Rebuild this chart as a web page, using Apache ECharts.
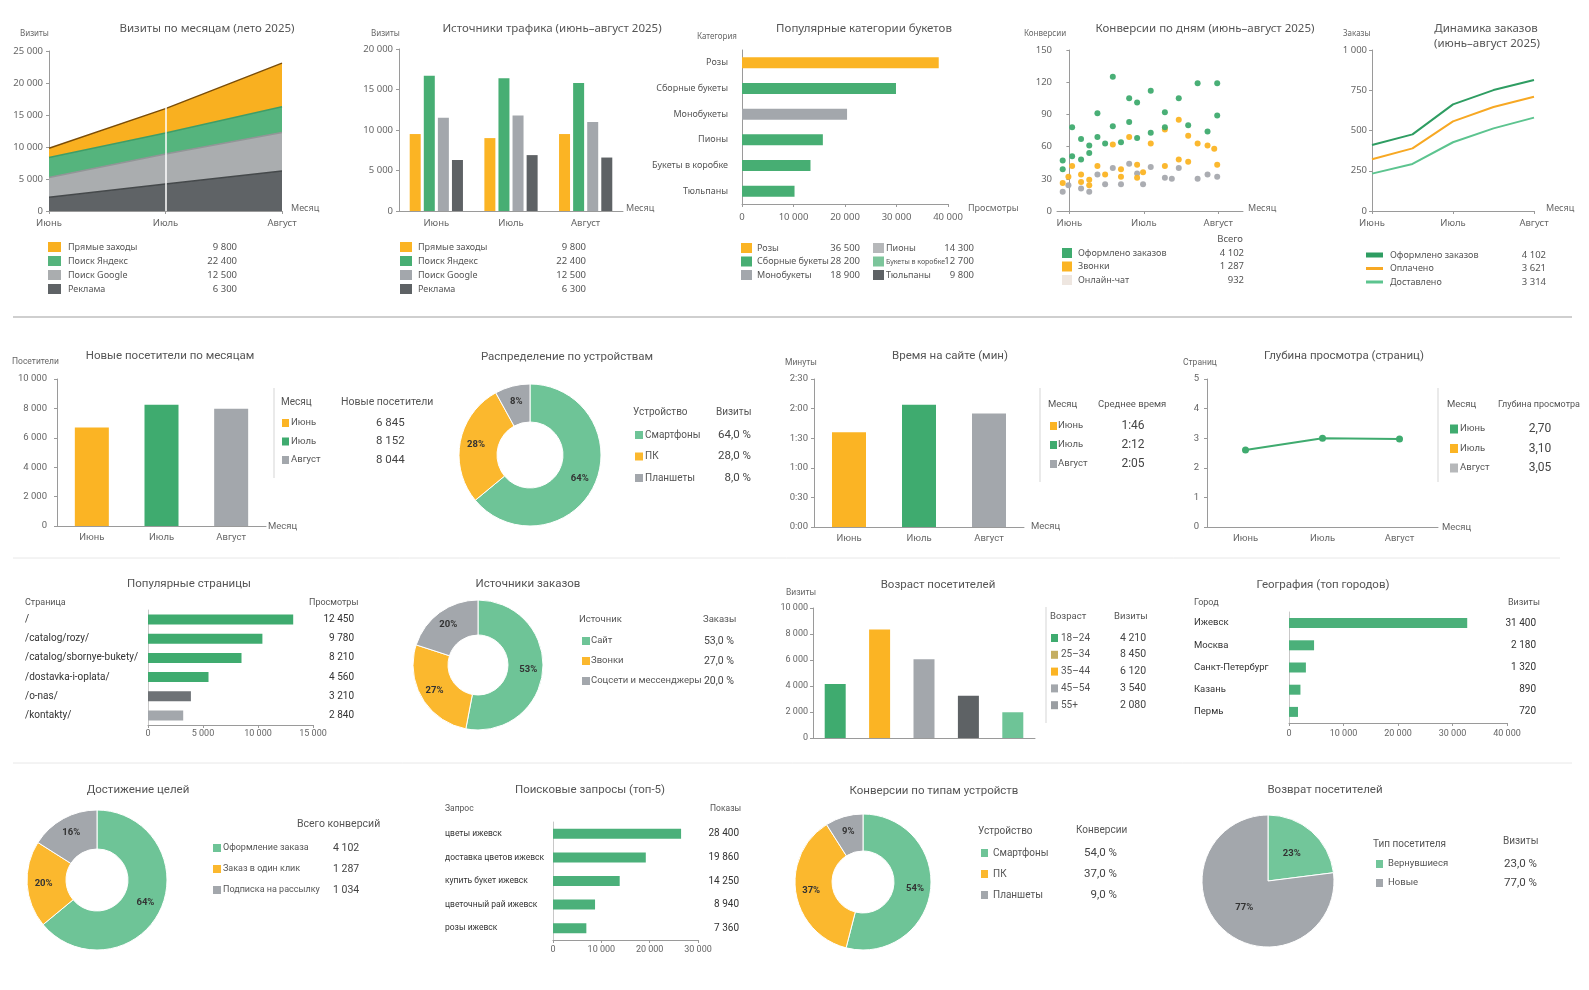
<!DOCTYPE html>
<html><head><meta charset="utf-8">
<script src="https://cdn.jsdelivr.net/npm/echarts@6/dist/echarts.min.js"></script>
<style>html,body{margin:0;padding:0;background:#fff}#c{width:1589px;height:990px}</style>
</head><body><div id="c"></div>
<script>
// ================= DATA =================
const months = ['Июнь','Июль','Август'];
// 1. Визиты по месяцам (stacked area)
const visitNames   = ['Прямые заходы','Поиск Яндекс','Поиск Google','Реклама'];
const visitsDirect = [1450, 3800, 6800];
const visitsYandex = [3100, 3300, 4050];
const visitsGoogle = [3100, 4700, 6000];
const visitsAds    = [2150, 4200, 6250];
const visitTotals  = [9800, 22400, 12500, 6300];
// 2. Источники трафика
const trafficDirect = [9500, 9000, 9500];
const trafficYandex = [16700, 16400, 15800];
const trafficGoogle = [11500, 11800, 11000];
const trafficAds    = [6300, 6900, 6600];
const trafficTotals = [9800, 22400, 12500, 6300];
// 3. Популярные категории букетов
const bouquetCats   = ['Розы','Сборные букеты','Монобукеты','Пионы','Букеты в коробке','Тюльпаны'];
const bouquetViews  = [38200, 29900, 20400, 15700, 13300, 10200];
const bouquetTotals = [36500, 28200, 18900, 14300, 12700, 9800];
// 4. Конверсии по дням ([day offset from 1 June, conversions])
const convNames  = ['Оформлено заказов','Звонки','Онлайн-чат'];
const convTotals = [4102, 1287, 932];
const convMonthDays = [0, 30, 60];
const convOrders = [[-2.7,47],[-2.7,39],[1.1,78],[1.1,51],[4.7,67],[4.7,48],[8,61],[8,54],[11.3,91],[11.3,69],[14.4,63],[17.5,125],[17.5,79],[20.8,64],[24.1,105],[24.1,83],[27.3,101],[27.3,68],[32.8,112],[32.8,73],[38.5,92],[38.5,78],[44.1,105],[47.9,80],[51.7,119],[55.7,74],[59.6,119],[59.6,89]];
const convCalls  = [[-2.7,26],[-0.4,32],[1.1,42],[4.7,34],[4.7,27],[8,29],[8,24],[11.3,42],[14.4,34],[17.5,62],[20.8,39],[20.8,32],[24.1,69],[27.3,43],[27.3,31],[29.7,36],[32.8,63],[38.5,42],[38.5,76],[44.1,48],[44.1,85],[47.9,70],[47.9,46],[51.7,63],[55.7,61],[58.4,58],[59.6,43]];
const convChat   = [[-2.7,18],[-0.4,24],[4.7,21],[8,18],[11.3,34],[14.4,25],[17.5,40],[20.8,25],[24.1,44],[27.3,35],[29.7,25],[32.8,41],[38.5,31],[41.3,30],[44.1,40],[51.7,30],[55.7,34],[59.6,32]];
// 5. Динамика заказов
const orderPoints     = ['Июнь','середина июня','Июль','середина июля','Август'];
const ordersPlaced    = [410, 476, 662, 751, 814];
const ordersPaid      = [321, 389, 557, 646, 710];
const ordersDelivered = [232, 292, 427, 513, 580];
const orderNames  = ['Оформлено заказов','Оплачено','Доставлено'];
const orderTotals = [4102, 3621, 3314];
// 6. Новые посетители
const newVisitors       = [6700, 8250, 7980];
const newVisitorsLabels = [6845, 8152, 8044];
// 7. Устройства
const devices     = ['Смартфоны','ПК','Планшеты'];
const deviceShare = [64, 28, 8];
// 8. Время на сайте (секунды)
const timeOnSite = [96, 124, 115];
const timeLabels = ['1:46','2:12','2:05'];
// 9. Глубина просмотра
const depth       = [2.6, 3.0, 2.97];
const depthLabels = ['2,70','3,10','3,05'];
// 10. Популярные страницы
const pages     = ['/','/catalog/rozy/','/catalog/sbornye-bukety/','/dostavka-i-oplata/','/o-nas/','/kontakty/'];
const pageBars  = [13200, 10400, 8500, 5500, 3900, 3200];
const pageViews = [12450, 9780, 8210, 4560, 3210, 2840];
// 11. Источники заказов
const orderSources     = ['Сайт','Звонки','Соцсети и мессенджеры'];
const orderSourceShare = [53, 27, 20];
// 12. Возраст
const ageGroups = ['18–24','25–34','35–44','45–54','55+'];
const ageBars   = [4150, 8350, 6050, 3250, 1980];
const ageVisits = [4210, 8450, 6120, 3540, 2080];
// 13. География
const cities     = ['Ижевск','Москва','Санкт-Петербург','Казань','Пермь'];
const cityBars   = [32700, 4600, 3100, 2100, 1650];
const cityVisits = [31400, 2180, 1320, 890, 720];
// 14. Достижение целей
const goals      = ['Оформление заказа','Заказ в один клик','Подписка на рассылку'];
const goalShare  = [64, 20, 16];
const goalTotals = [4102, 1287, 1034];
// 15. Поисковые запросы
const queries    = ['цветы ижевск','доставка цветов ижевск','купить букет ижевск','цветочный рай ижевск','розы ижевск'];
const queryBars  = [26500, 19200, 13800, 8700, 6900];
const queryShows = [28400, 19860, 14250, 8940, 7360];
// 16. Конверсии по типам устройств
const convDevices     = ['Смартфоны','ПК','Планшеты'];
const convDeviceShare = [54, 37, 9];
// 17. Возврат посетителей
const visitorTypes = ['Вернувшиеся','Новые'];
const visitorShare = [23, 77];

// ================= STYLE =================
const F1 = "'Noto Sans','Open Sans',sans-serif";
const F2 = "'Roboto','Noto Sans',sans-serif";
const OR = '#FBB424', GR = '#3FAB6F', LG = '#6EC497', GY = '#A3A7AC', DG = '#5E6265', LGY = '#B6B8BA';
const AX = '#9a9a9a';

function fmt(v){ return String(v).replace(/\B(?=(\d{3})+(?!\d))/g,' '); }
function pct(v){ return v.toFixed(1).replace('.',',') + ' %'; }
function mmss(v){ const m = Math.floor(v/60), s = v%60; return m + ':' + (s<10?'0':'') + s; }
function merge(a,b){ for(const k in b){ if(b[k] && typeof b[k]==='object' && !Array.isArray(b[k]) && a[k] && typeof a[k]==='object' && !Array.isArray(a[k])) merge(a[k],b[k]); else a[k]=b[k]; } return a; }

const grid=[], xAxis=[], yAxis=[], series=[], graphic=[];
function addGrid(g){ grid.push(Object.assign({containLabel:false, outerBoundsMode:'none'}, g)); return grid.length-1; }
function valAxis(g,min,max,interval,font,size,margin,fn,extra){
  return merge({gridIndex:g,type:'value',min,max,interval,
    axisLine:{show:true,lineStyle:{color:AX}},axisTick:{show:true,length:3,lineStyle:{color:AX}},
    axisLabel:{color:'#666',fontFamily:font,fontSize:size,margin,formatter:fn||fmt},
    splitLine:{show:false}}, extra||{});
}
function catAxis(g,data,font,size,margin,extra){
  return merge({gridIndex:g,type:'category',data,
    axisLine:{show:true,lineStyle:{color:AX}},axisTick:{show:false},
    axisLabel:{color:'#666',fontFamily:font,fontSize:size,margin},
    splitLine:{show:false}}, extra||{});
}
function T(x,y,s,o){ o=o||{}; return {type:'text',silent:true,z:10,style:{x,y,text:String(s),fill:o.c||'#555',fontSize:o.s||10,fontFamily:o.f||F2,fontWeight:o.w||'normal',align:o.a||'left',textAlign:o.a||'left',verticalAlign:'middle',textVerticalAlign:'middle'}}; }
function R(x,y,w,h,c){ return {type:'rect',silent:true,z:10,shape:{x,y:y-h/2,width:w,height:h},style:{fill:c}}; }
function L(x1,y1,x2,y2,c,w){ return {type:'line',silent:true,z:10,shape:{x1,y1,x2,y2},style:{stroke:c,lineWidth:w||1}}; }
function each(arr,y0,dy,fn){ arr.forEach((n,i)=>fn(n,i,y0+i*dy)); }
function lastX(){ return xAxis.length-1; } function lastY(){ return yAxis.length-1; }
function colored(vals,cols){ return vals.map((v,i)=>({value:v,itemStyle:{color:cols[i]}})); }

let g, xi, yi;

// ---------- 1. Визиты по месяцам ----------
g = addGrid({left:49,top:51,width:233,height:160});
xAxis.push(catAxis(g,months,F1,9.5,7,{boundaryGap:false,axisTick:{show:true,length:3,lineStyle:{color:AX}}})); xi=lastX();
yAxis.push(valAxis(g,0,25000,5000,F1,9.5,6)); yi=lastY();
const areaDefs = [[visitNames[3],visitsAds,'#5F6366','#45494B'],[visitNames[2],visitsGoogle,'#AAADAF','#929597'],[visitNames[1],visitsYandex,'#55B47D','#3E9D67'],[visitNames[0],visitsDirect,'#F9B020','#7A4D08']];
areaDefs.forEach((s,i)=>{
  const ser = {type:'line',name:s[0],xAxisIndex:xi,yAxisIndex:yi,data:s[1],stack:'visits',symbol:'none',silent:true,
    lineStyle:{color:s[3],width:1.5},areaStyle:{color:s[2],opacity:1},itemStyle:{color:s[2]}};
  if(i===areaDefs.length-1) ser.markLine = {silent:true,symbol:'none',label:{show:false},lineStyle:{color:'#fff',width:1.5,type:'solid'},data:[{xAxis:months[1]}]};
  series.push(ser);
});
const c1Colors = ['#F9B020','#55B47D','#AAADAF','#5F6366'];
each(visitNames,247,14,(n,i,y)=>graphic.push(R(48,y,13,10,c1Colors[i]),T(68,y,n,{f:F1,s:9}),T(237,y,fmt(visitTotals[i]),{f:F1,s:9.5,a:'right'})));

// ---------- 2. Источники трафика ----------
g = addGrid({left:399,top:49,width:224,height:162});
xAxis.push(catAxis(g,months,F1,9.5,7)); xi=lastX();
yAxis.push(valAxis(g,0,20000,5000,F1,9.5,6)); yi=lastY();
const c2Colors = [OR,'#47AE73',GY,DG];
[trafficDirect,trafficYandex,trafficGoogle,trafficAds].forEach((d,i)=>series.push({type:'bar',name:visitNames[i],xAxisIndex:xi,yAxisIndex:yi,data:d,barWidth:11,barGap:'28%',itemStyle:{color:c2Colors[i]},silent:true}));
each(visitNames,247,14,(n,i,y)=>graphic.push(R(400,y,12,10,c2Colors[i]),T(418,y,n,{f:F1,s:9}),T(586,y,fmt(trafficTotals[i]),{f:F1,s:9.5,a:'right'})));

// ---------- 3. Популярные категории букетов ----------
g = addGrid({left:742,top:50,width:206,height:154});
xAxis.push(valAxis(g,0,40000,10000,F1,9.5,8)); xi=lastX();
yAxis.push(catAxis(g,bouquetCats,F1,9,14,{inverse:true,axisLabel:{color:'#555'}})); yi=lastY();
series.push({type:'bar',xAxisIndex:xi,yAxisIndex:yi,data:colored(bouquetViews,[OR,'#47AE73',GY,'#47AE73','#47AE73','#47AE73']),barWidth:11,silent:true});
const c3Colors = [OR,'#47AE73',GY,LGY,'#7CC59B',DG];
bouquetCats.forEach((n,i)=>{
  const col = i<3?0:1, y = 248 + (i%3)*13.5;
  const ix = col?873:741, tx = col?886:757, vx = col?974:860;
  graphic.push(R(ix,y,11,10,c3Colors[i]),T(tx,y,n,{f:F1,s:(i===4?7:9)}),T(vx,y,fmt(bouquetTotals[i]),{f:F1,s:9.5,a:'right'}));
});

// ---------- 4. Конверсии по дням ----------
g = addGrid({left:1057,top:50,width:186,height:161});
xAxis.push({gridIndex:g,type:'value',min:-5,max:70,axisLine:{show:true,lineStyle:{color:AX}},
  axisTick:{show:true,length:3,lineStyle:{color:AX},customValues:convMonthDays},
  axisLabel:{color:'#666',fontFamily:F1,fontSize:9.5,margin:7,customValues:convMonthDays,formatter:v=>months[Math.round(v/30)]},
  splitLine:{show:false}}); xi=lastX();
yAxis.push(valAxis(g,0,150,30,F1,9.5,5)); yi=lastY();
[[convChat,'#A6A9AE'],[convCalls,OR],[convOrders,GR]].forEach(s=>series.push({type:'scatter',xAxisIndex:xi,yAxisIndex:yi,data:s[0],symbolSize:6,itemStyle:{color:s[1],opacity:0.95},silent:true}));
const c4Colors = [GR,OR,'#EEE6E0'];
graphic.push(T(1243,239,'Всего',{f:F1,s:9.5,a:'right'}));
each(convNames,253,13.5,(n,i,y)=>graphic.push(R(1062,y,10,10,c4Colors[i]),T(1078,y,n,{f:F1,s:9}),T(1244,y,fmt(convTotals[i]),{f:F1,s:9.5,a:'right'})));

// ---------- 5. Динамика заказов ----------
g = addGrid({left:1372,top:50,width:162,height:161});
xAxis.push(catAxis(g,orderPoints,F1,9.5,7,{boundaryGap:false,axisLabel:{interval:1},axisTick:{show:true,length:3,interval:1,lineStyle:{color:AX}}})); xi=lastX();
yAxis.push(valAxis(g,0,1000,250,F1,9.5,5)); yi=lastY();
const c5Colors = ['#2E9D62','#F7A823','#5CC48F'];
[ordersPlaced,ordersPaid,ordersDelivered].forEach((d,i)=>series.push({type:'line',name:orderNames[i],xAxisIndex:xi,yAxisIndex:yi,data:d,symbol:'none',lineStyle:{color:c5Colors[i],width:2},itemStyle:{color:c5Colors[i]},silent:true}));
each(orderNames,255,13.5,(n,i,y)=>graphic.push(R(1366,y,17,i===0?5:3,c5Colors[i]),T(1390,y,n,{f:F1,s:9}),T(1546,y,fmt(orderTotals[i]),{f:F1,s:9.5,a:'right'})));

// ---------- 6. Новые посетители ----------
g = addGrid({left:57,top:379,width:209,height:147});
xAxis.push(catAxis(g,months,F2,9.5,7)); xi=lastX();
yAxis.push(valAxis(g,0,10000,2000,F2,9.5,10)); yi=lastY();
const monthColors = [OR,GR,GY];
series.push({type:'bar',xAxisIndex:xi,yAxisIndex:yi,data:colored(newVisitors,monthColors),barWidth:34,silent:true});
graphic.push(L(274,388,274,478,'#d5d5d5'),T(281,402,'Месяц',{s:10}),T(341,402,'Новые посетители',{s:10.5}));
each(months,423,18.5,(n,i,y)=>graphic.push(R(282,y,7,8,monthColors[i]),T(291,y,n,{s:9.5}),T(376,y,fmt(newVisitorsLabels[i]),{s:11.5,c:'#444'})));

// ---------- 7. Распределение по устройствам ----------
const pieLabel = {show:true,position:'inside',formatter:p=>p.value+'%',color:'#333',fontSize:9.5,fontFamily:F2,fontWeight:'bold'};
const pieColors = [LG,'#FBB82E',GY];
function addPie(center,radius,names,vals,cols){
  series.push({type:'pie',center,radius,startAngle:90,clockwise:true,silent:true,avoidLabelOverlap:false,
    label:pieLabel,labelLine:{show:false},itemStyle:{borderColor:'#fff',borderWidth:1},emphasis:{disabled:true},
    data:names.map((n,i)=>({name:n,value:vals[i],itemStyle:{color:cols[i]}}))});
}
addPie([530,455],[33,71],devices,deviceShare,pieColors);
graphic.push(T(633,412,'Устройство',{s:10}),T(716,412,'Визиты',{s:10}));
each(devices,435,21.5,(n,i,y)=>graphic.push(R(635,y,8,8,pieColors[i]),T(645,y,n,{s:10}),T(751,y,pct(deviceShare[i]),{s:11.5,a:'right',c:'#444'})));

// ---------- 8. Время на сайте ----------
g = addGrid({left:814,top:379,width:210,height:148});
xAxis.push(catAxis(g,months,F2,9.5,7)); xi=lastX();
yAxis.push(valAxis(g,0,150,30,F2,9.5,6,mmss)); yi=lastY();
series.push({type:'bar',xAxisIndex:xi,yAxisIndex:yi,data:colored(timeOnSite,monthColors),barWidth:34,silent:true});
graphic.push(L(1040,388,1040,482,'#d5d5d5'),T(1048,405,'Месяц',{s:9.5}),T(1098,405,'Среднее время',{s:9.5}));
each(months,426,19,(n,i,y)=>graphic.push(R(1050,y,7,8,monthColors[i]),T(1058,y,n,{s:9.5}),T(1133,y,timeLabels[i],{s:12,a:'center',c:'#444'})));

// ---------- 9. Глубина просмотра ----------
g = addGrid({left:1207,top:379,width:231,height:148});
xAxis.push(catAxis(g,months,F2,9.5,7)); xi=lastX();
yAxis.push(valAxis(g,0,5,1,F2,9.5,8,v=>String(v))); yi=lastY();
series.push({type:'line',xAxisIndex:xi,yAxisIndex:yi,data:depth,symbol:'circle',symbolSize:7,lineStyle:{color:GR,width:2},itemStyle:{color:GR},silent:true});
const c9Colors = [GR,OR,LGY];
graphic.push(L(1438,388,1438,482,'#d5d5d5'),T(1447,405,'Месяц',{s:9.5}),T(1498,405,'Глубина просмотра',{s:9}));
each(months,429,19.5,(n,i,y)=>graphic.push(R(1450,y,8,9,c9Colors[i]),T(1460,y,n,{s:9.5}),T(1540,y,depthLabels[i],{s:12,a:'center',c:'#444'})));

// ---------- 10. Популярные страницы ----------
g = addGrid({left:148,top:610,width:165,height:115});
xAxis.push(valAxis(g,0,15000,5000,F2,9,4)); xi=lastX();
yAxis.push(catAxis(g,pages,F2,10,123,{inverse:true,axisLabel:{align:'left',color:'#333'},axisLine:{lineStyle:{color:'#c8c8c8'}}})); yi=lastY();
yAxis.push(catAxis(g,pageViews.map(fmt),F2,10,41,{inverse:true,position:'right',axisLine:{show:false},axisLabel:{align:'right',color:'#333'}}));
series.push({type:'bar',xAxisIndex:xi,yAxisIndex:yi,data:colored(pageBars,[GR,GR,GR,GR,'#6E7276',GY]),barWidth:10,silent:true});
graphic.push(T(25,603,'Страница',{s:9}),T(309,603,'Просмотры',{s:9}));

// ---------- 11. Источники заказов ----------
addPie([478,665],[30,65],orderSources,orderSourceShare,pieColors);
graphic.push(T(579,620,'Источник',{s:9.5}),T(703,620,'Заказы',{s:9.5}));
each(orderSources,641,20,(n,i,y)=>graphic.push(R(582,y,8,8,pieColors[i]),T(591,y,n,{s:9.5}),T(734,y,pct(orderSourceShare[i]),{s:10.5,a:'right',c:'#444'})));

// ---------- 12. Возраст посетителей ----------
g = addGrid({left:813,top:608,width:222,height:130});
xAxis.push(catAxis(g,ageGroups,F2,10,7,{axisLabel:{show:false}})); xi=lastX();
yAxis.push(valAxis(g,0,10000,2000,F2,9,5)); yi=lastY();
series.push({type:'bar',xAxisIndex:xi,yAxisIndex:yi,data:colored(ageBars,[GR,OR,GY,DG,LG]),barWidth:21,silent:true});
const c12Colors = [GR,'#C4AE62',OR,GY,'#9A9EA2'];
graphic.push(L(1046,607,1046,723,'#d5d5d5'),T(1050,617,'Возраст',{s:9.5}),T(1114,617,'Визиты',{s:9.5}));
each(ageGroups,638,16.8,(n,i,y)=>graphic.push(R(1051,y,7,8,c12Colors[i]),T(1061,y,n,{s:10}),T(1133,y,fmt(ageVisits[i]),{s:10.5,a:'center',c:'#444'})));

// ---------- 13. География ----------
g = addGrid({left:1289,top:612,width:218,height:111});
xAxis.push(valAxis(g,0,40000,10000,F2,9,6)); xi=lastX();
yAxis.push(catAxis(g,cities,F2,9.5,95,{inverse:true,axisLabel:{align:'left',color:'#333'},axisLine:{lineStyle:{color:'#c8c8c8'}}})); yi=lastY();
yAxis.push(catAxis(g,cityVisits.map(fmt),F2,10,29,{inverse:true,position:'right',axisLine:{show:false},axisLabel:{align:'right',color:'#333'}}));
series.push({type:'bar',xAxisIndex:xi,yAxisIndex:yi,data:cityBars,barWidth:10,itemStyle:{color:'#4BB07A'},silent:true});
graphic.push(T(1194,603,'Город',{s:9}),T(1508,603,'Визиты',{s:9}));

// ---------- 14. Достижение целей ----------
addPie([97,880],[31,70],goals,goalShare,pieColors);
graphic.push(T(297,824,'Всего конверсий',{s:10.5}));
each(goals,848,21,(n,i,y)=>graphic.push(R(213,y,8,8,pieColors[i]),T(223,y,n,{s:9}),T(333,y,fmt(goalTotals[i]),{s:10.5,c:'#444'})));

// ---------- 15. Поисковые запросы ----------
g = addGrid({left:553,top:822,width:145,height:118});
xAxis.push(valAxis(g,0,30000,10000,F2,9,5)); xi=lastX();
yAxis.push(catAxis(g,queries,F2,8.5,108,{inverse:true,axisLabel:{align:'left',color:'#333'},axisLine:{lineStyle:{color:'#c8c8c8'}}})); yi=lastY();
yAxis.push(catAxis(g,queryShows.map(fmt),F2,10,41,{inverse:true,position:'right',axisLine:{show:false},axisLabel:{align:'right',color:'#333'}}));
series.push({type:'bar',xAxisIndex:xi,yAxisIndex:yi,data:queryBars,barWidth:10,itemStyle:{color:'#4BB07A'},silent:true});
graphic.push(T(445,809,'Запрос',{s:8.5}),T(710,809,'Показы',{s:8.5}));

// ---------- 16. Конверсии по типам устройств ----------
addPie([863,882],[31,68],convDevices,convDeviceShare,pieColors);
graphic.push(T(978,831,'Устройство',{s:10}),T(1076,830,'Конверсии',{s:10}));
each(convDevices,853,21,(n,i,y)=>graphic.push(R(981,y,7,8,pieColors[i]),T(993,y,n,{s:10}),T(1117,y,pct(convDeviceShare[i]),{s:11.5,a:'right',c:'#444'})));

// ---------- 17. Возврат посетителей ----------
const c17Colors = ['#72C69A',GY];
addPie([1268,881],[0,66],visitorTypes,visitorShare,c17Colors);
graphic.push(T(1373,844,'Тип посетителя',{s:10}),T(1503,841,'Визиты',{s:10}));
each(visitorTypes,864,19,(n,i,y)=>graphic.push(R(1376,y,7,8,c17Colors[i]),T(1388,y,n,{s:9.5}),T(1537,y,pct(visitorShare[i]),{s:11.5,a:'right',c:'#444'})));

// ---------- titles & axis names ----------
[['Визиты по месяцам (лето 2025)',207,29],['Источники трафика (июнь–август 2025)',552,29],['Популярные категории букетов',864,29],
 ['Конверсии по дням (июнь–август 2025)',1205,29],['Динамика заказов',1486,29],['(июнь–август 2025)',1487,44]]
 .forEach(t=>graphic.push(T(t[1],t[2],t[0],{f:F1,s:11.5,a:'center',c:'#555'})));
[['Новые посетители по месяцам',170,356],['Распределение по устройствам',567,357],['Время на сайте (мин)',950,356],['Глубина просмотра (страниц)',1344,356],
 ['Популярные страницы',189,584],['Источники заказов',528,584],['Возраст посетителей',938,585],['География (топ городов)',1323,585],
 ['Достижение целей',138,790],['Поисковые запросы (топ-5)',590,790],['Конверсии по типам устройств',934,791],['Возврат посетителей',1325,790]]
 .forEach(t=>graphic.push(T(t[1],t[2],t[0],{s:11.5,a:'center',c:'#555'})));
[['Визиты',20,34],['Визиты',371,34],['Категория',697,37],['Конверсии',1024,34],['Заказы',1343,34]]
 .forEach(t=>graphic.push(T(t[1],t[2],t[0],{f:F1,s:8,c:'#666'})));
[['Месяц',291,208],['Месяц',626,208],['Просмотры',968,208],['Месяц',1248,208],['Месяц',1546,208]]
 .forEach(t=>graphic.push(T(t[1],t[2],t[0],{f:F1,s:9,c:'#666'})));
[['Посетители',12,362],['Минуты',785,363],['Страниц',1183,363],['Визиты',786,593]]
 .forEach(t=>graphic.push(T(t[1],t[2],t[0],{s:8.5,c:'#666'})));
[['Месяц',268,527],['Месяц',1031,527],['Месяц',1442,528]]
 .forEach(t=>graphic.push(T(t[1],t[2],t[0],{s:9.5,c:'#666'})));

// separators
graphic.push(L(13,317,1572,317,'#cfcfcf',2),L(13,558,1560,558,'#e8e8e8',1),L(13,763,1572,763,'#e8e8e8',1));

const chart = echarts.init(document.getElementById('c'), null, {renderer:'canvas'});
chart.setOption({animation:false,backgroundColor:'#fff',tooltip:{show:false},grid,xAxis,yAxis,series,graphic});
</script></body></html>
